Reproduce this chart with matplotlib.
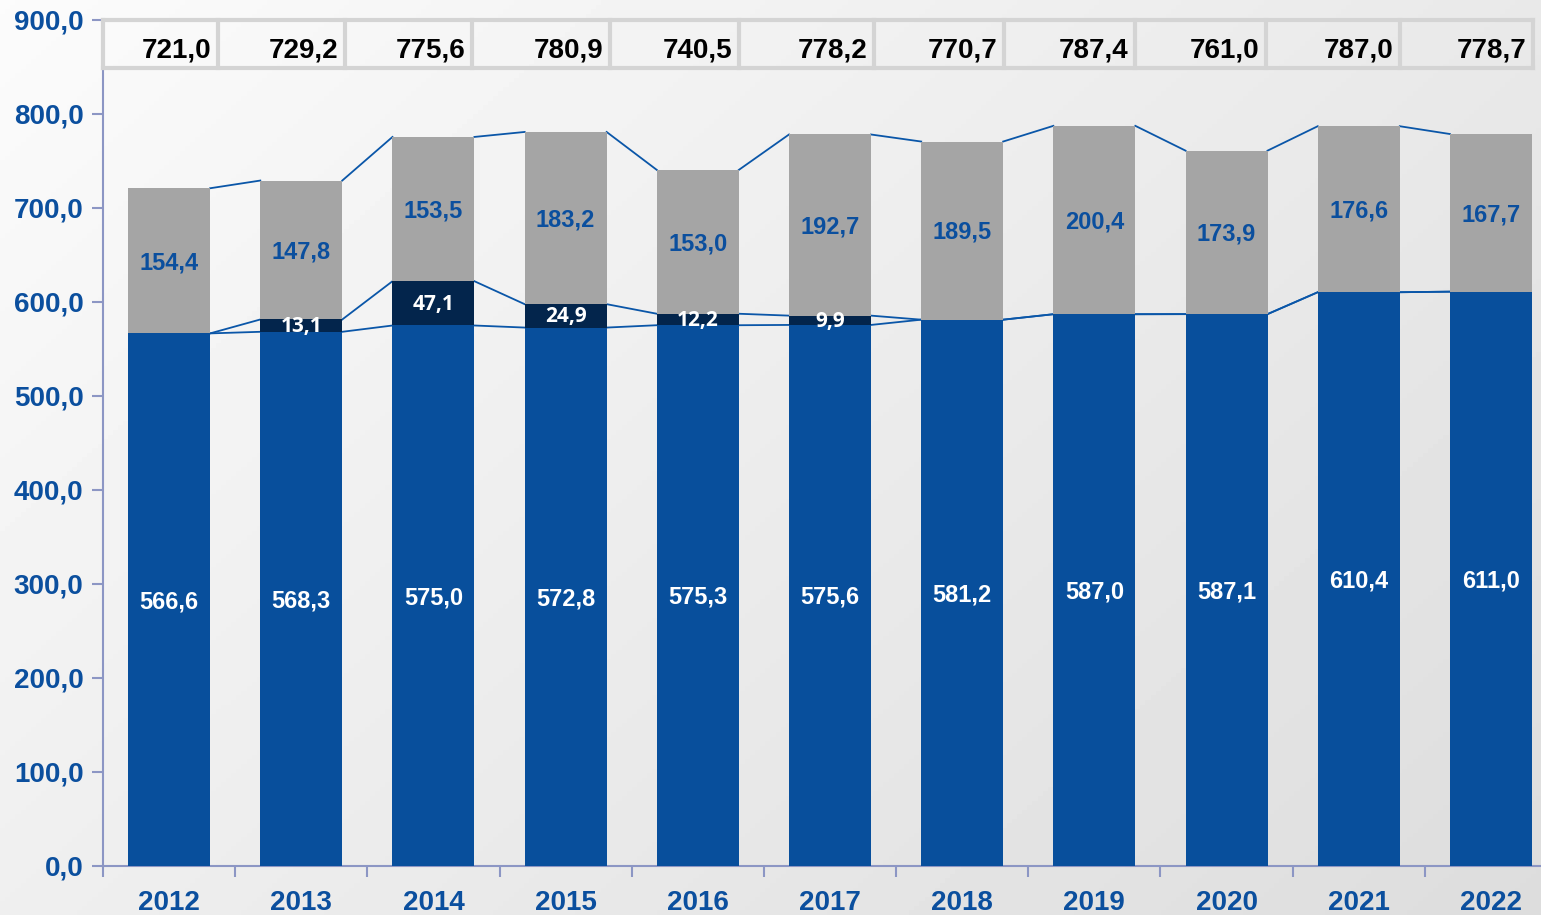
import numpy as np
import matplotlib
matplotlib.use('Agg')
import matplotlib.pyplot as plt

years = ['2012', '2013', '2014', '2015', '2016', '2017', '2018', '2019', '2020', '2021', '2022']
base = [566.6, 568.3, 575.0, 572.8, 575.3, 575.6, 581.2, 587.0, 587.1, 610.4, 611.0]
extra = [0, 13.1, 47.1, 24.9, 12.2, 9.9, 0, 0, 0, 0, 0]
other = [154.4, 147.8, 153.5, 183.2, 153.0, 192.7, 189.5, 200.4, 173.9, 176.6, 167.7]
totals = [721.0, 729.2, 775.6, 780.9, 740.5, 778.2, 770.7, 787.4, 761.0, 787.0, 778.7]

# right edges of the cells in the top row (data x)
cell_edges = [0.37, 1.33, 2.29, 3.335, 4.31, 5.33, 6.315, 7.31, 8.30, 9.31, 10.32]

blue = '#084f9c'
navy = '#03254c'
grey = '#a5a5a5'
txt_blue = '#0b4f9e'
axis_col = '#8c96c4'
font = 'Liberation Sans'

fig = plt.figure(figsize=(15.41, 9.15), dpi=100)

# background gradient
bg = fig.add_axes([0, 0, 1, 1], zorder=-10)
gx, gy = np.meshgrid(np.linspace(0, 1, 300), np.linspace(0, 1, 200))
g = 0.985 - 0.12 * (0.6 * gx + 0.4 * gy)
bg.imshow(g, cmap='gray', vmin=0, vmax=1, aspect='auto', extent=[0, 1, 0, 1], origin='upper')
bg.axis('off')

ax = fig.add_axes([103 / 1541, 1 - 866 / 915, 1454 / 1541, (866 - 20) / 915])
ax.set_facecolor('none')

x = np.arange(len(years))
w = 0.62
b2 = np.array(base) + np.array(extra)
ax.bar(x, base, w, color=blue, zorder=3)
ax.bar(x, extra, w, bottom=base, color=navy, zorder=3)
ax.bar(x, other, w, bottom=b2, color=grey, zorder=3)

# series lines between bars
for level in [np.array(base), b2, np.array(totals)]:
    for i in range(len(x) - 1):
        ax.plot([x[i] + w / 2, x[i + 1] - w / 2], [level[i], level[i + 1]],
                color='#0a56a8', lw=1.3, zorder=2)

def fmt(v):
    return f'{v:.1f}'.replace('.', ',')

for i in range(len(x)):
    ax.text(x[i], base[i] / 2 - 2, fmt(base[i]), ha='center', va='center', color='white',
            fontsize=17, fontweight='bold', family=font, zorder=4)
    if extra[i] > 0:
        ax.text(x[i], base[i] + extra[i] / 2 - 1, fmt(extra[i]), ha='center', va='center',
                color='white', fontsize=15, fontweight='bold', family='Open Sans', zorder=4)
    ax.text(x[i], b2[i] + other[i] / 2 - 2, fmt(other[i]), ha='center', va='center',
            color=txt_blue, fontsize=17, fontweight='bold', family=font, zorder=4)

# top row of totals
row_top, row_bot = 900, 849
ax.plot([-0.5, cell_edges[-1]], [row_top, row_top], color='#d4d4d4', lw=3, zorder=5, clip_on=False)
ax.plot([-0.5, cell_edges[-1]], [row_bot, row_bot], color='#d4d4d4', lw=3, zorder=5, clip_on=False)
for e in [-0.5] + cell_edges:
    ax.plot([e, e], [row_bot, row_top], color='#d4d4d4', lw=3, zorder=5, clip_on=False)
for i, t in enumerate(totals):
    ax.text(cell_edges[i] - 0.05, 868, fmt(t), ha='right', va='center',
            color='black', fontsize=20, fontweight='bold', family=font, zorder=6)

ax.set_xlim(-0.5, len(years) - 0.5)
ax.set_ylim(0, 900)
ax.set_yticks(np.arange(0, 901, 100))
ax.set_yticklabels([fmt(v) for v in np.arange(0, 901, 100)])
ax.set_xticks(np.arange(-0.5, len(years), 1))
ax.set_xticklabels([])
ax.set_xticks(x, minor=True)
ax.set_xticklabels(years, minor=True)
ax.tick_params(axis='x', which='major', length=8, width=1.5, color=axis_col)
ax.tick_params(axis='x', which='minor', length=0, pad=17)
ax.tick_params(axis='y', length=8, width=1.5, color=axis_col, pad=6)
for lab in ax.get_yticklabels() + ax.get_xticklabels(minor=True):
    lab.set_fontsize(20)
    lab.set_fontweight('bold')
    lab.set_family(font)
    lab.set_color(txt_blue)

for s in ['top', 'right']:
    ax.spines[s].set_visible(False)
for s in ['left', 'bottom']:
    ax.spines[s].set_color(axis_col)
    ax.spines[s].set_linewidth(1.5)

fig.savefig('out.png', dpi=100)
